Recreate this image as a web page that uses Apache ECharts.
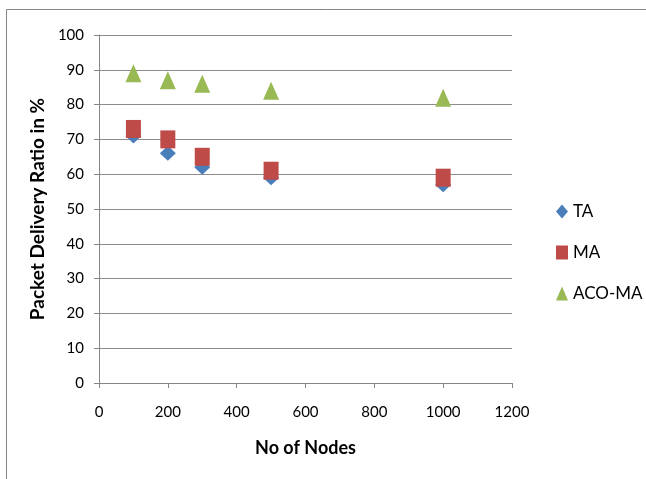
<!DOCTYPE html>
<html>
<head>
<meta charset="utf-8">
<script src="https://cdn.jsdelivr.net/npm/echarts@6/dist/echarts.min.js"></script>
<style>
  html, body { margin: 0; padding: 0; background: #fff; }
  #chart { width: 646px; height: 479px; }
</style>
</head>
<body>
<div id="chart"></div>
<script>
// Number of nodes in each run
const nodes = [100, 200, 300, 500, 1000];
// Packet delivery ratio (%) per protocol
const taValues = [71, 66, 62, 59, 57];
const maValues = [73, 70, 65, 61, 59];
const acoMaValues = [89, 87, 86, 84, 82];
const seriesNames = ['TA', 'MA', 'ACO-MA'];
const xTicks = [0, 200, 400, 600, 800, 1000, 1200];
const yTicks = [0, 10, 20, 30, 40, 50, 60, 70, 80, 90, 100];

const FONT = 'Lato, "Open Sans", "Liberation Sans", sans-serif';
const pairs = vals => nodes.map((n, i) => [n, vals[i]]);

const chart = echarts.init(document.getElementById('chart'), null, { renderer: 'canvas' });
chart.setOption({
  animation: false,
  backgroundColor: '#ffffff',
  textStyle: { fontFamily: FONT },
  graphic: [{
    type: 'rect',
    shape: { x: 6.5, y: 9.5, width: 700, height: 520 },
    style: { fill: 'none', stroke: '#868686', lineWidth: 1 },
    silent: true
  }],
  grid: { left: 99, right: 134, top: 35, bottom: 96 },
  legend: {
    orient: 'vertical',
    left: 551,
    top: 198,
    itemGap: 24,
    itemWidth: 12,
    itemHeight: 14,
    textStyle: { fontFamily: FONT, fontSize: 17, color: '#000' },
    data: [
      { name: 'TA', icon: 'diamond' },
      { name: 'MA', icon: 'rect' },
      { name: 'ACO-MA', icon: 'triangle' }
    ]
  },
  xAxis: {
    type: 'value',
    min: xTicks[0],
    max: xTicks[xTicks.length - 1],
    interval: 200,
    name: 'No of Nodes',
    nameLocation: 'middle',
    nameGap: 56,
    nameTextStyle: { fontFamily: FONT, fontSize: 18, fontWeight: 'bold', color: '#000' },
    axisLine: { show: true, lineStyle: { color: '#868686' } },
    axisTick: { show: true, length: 5, inside: false, lineStyle: { color: '#868686' } },
    axisLabel: { fontFamily: FONT, fontSize: 15, color: '#000', margin: 22, formatter: v => String(v) },
    splitLine: { show: false }
  },
  yAxis: {
    type: 'value',
    min: yTicks[0],
    max: yTicks[yTicks.length - 1],
    interval: 10,
    name: 'Packet Delivery Ratio in %',
    nameLocation: 'middle',
    nameGap: 45,
    nameTextStyle: { fontFamily: FONT, fontSize: 19, fontWeight: 'bold', color: '#000' },
    axisLine: { show: true, lineStyle: { color: '#868686' } },
    axisTick: { show: true, length: 5, lineStyle: { color: '#868686' } },
    axisLabel: { fontFamily: FONT, fontSize: 15, color: '#000', margin: 15, formatter: v => String(v) },
    splitLine: { show: true, lineStyle: { color: '#8c8c8c', width: 1 } }
  },
  series: [
    {
      name: seriesNames[0], type: 'scatter', symbol: 'diamond', symbolSize: [16, 15],
      itemStyle: { color: '#4a7ebb', opacity: 1 }, data: pairs(taValues), z: 2
    },
    {
      name: seriesNames[1], type: 'scatter', symbol: 'rect', symbolSize: [15, 18],
      itemStyle: { color: '#be4b48', opacity: 1 }, data: pairs(maValues), z: 3
    },
    {
      name: seriesNames[2], type: 'scatter', symbol: 'triangle', symbolSize: [16, 18],
      itemStyle: { color: '#98b954', opacity: 1 }, data: pairs(acoMaValues), z: 4
    }
  ]
});
</script>
</body>
</html>
